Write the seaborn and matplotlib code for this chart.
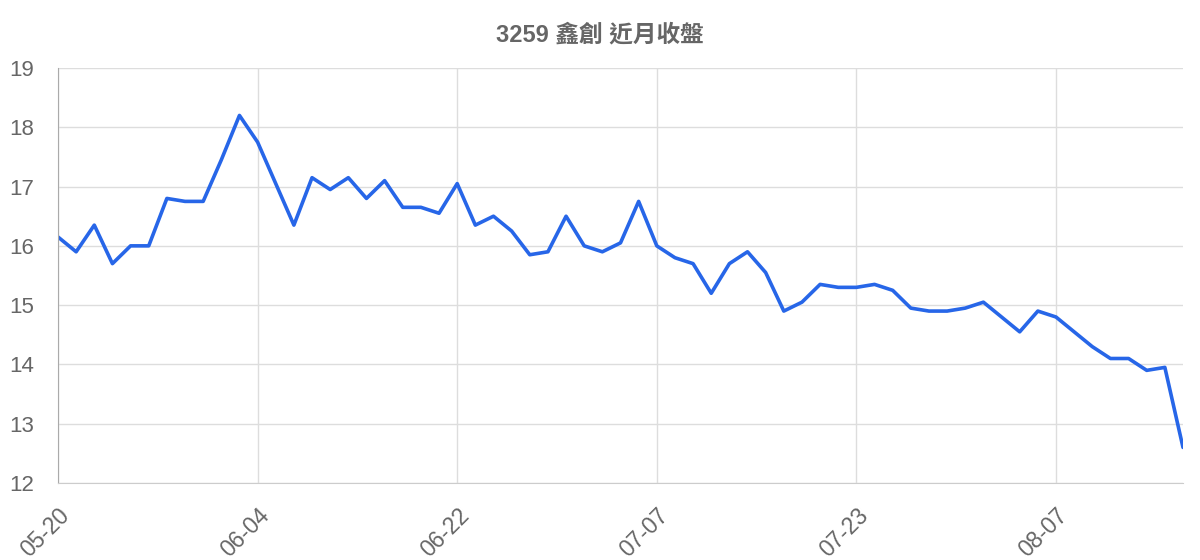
import matplotlib
matplotlib.use('Agg')
import matplotlib.pyplot as plt
import seaborn as sns
import pandas as pd

# closing prices, one per trading day
close = [16.15, 15.90, 16.35, 15.70, 16.00, 16.00, 16.80, 16.75, 16.75, 17.45,
         18.20, 17.75, 17.05, 16.35, 17.15, 16.95, 17.15, 16.80, 17.10, 16.65,
         16.65, 16.55, 17.05, 16.35, 16.50, 16.25, 15.85, 15.90, 16.50, 16.00,
         15.90, 16.05, 16.75, 16.00, 15.80, 15.70, 15.20, 15.70, 15.90, 15.55,
         14.90, 15.05, 15.35, 15.30, 15.30, 15.35, 15.25, 14.95, 14.90, 14.90,
         14.95, 15.05, 14.80, 14.55, 14.90, 14.80, 14.55, 14.30, 14.10, 14.10,
         13.90, 13.95, 12.60]
tick_labels = ['05-20', '06-04', '06-22', '07-07', '07-23', '08-07']
tick_step = 11
title = '3259 鑫創 近月收盤'

df = pd.DataFrame({'day': range(len(close)), 'close': close})

sns.set_style('white')
plt.rcParams['font.family'] = ['Liberation Sans', 'Noto Sans CJK TC', 'DejaVu Sans']

fig = plt.figure(figsize=(12, 5.6), dpi=100)
ax = fig.add_axes([58 / 1200, 1 - 483 / 560, (1183 - 58) / 1200, (483 - 68) / 560])

sns.lineplot(data=df, x='day', y='close', ax=ax, color='#2766e8', linewidth=2.6)

ax.set_xlim(0, len(close) - 1)
ax.set_ylim(12, 19)
ax.set_yticks(range(12, 20))
ax.set_xticks([i * tick_step for i in range(len(tick_labels))])
ax.set_xticklabels(tick_labels, rotation=45, ha='right', rotation_mode='anchor')
ax.set_xlabel('')
ax.set_ylabel('')

ax.grid(True, color='#dddddd', linewidth=1)
ax.tick_params(axis='y', length=14, color='#dddddd', width=1,
               labelsize=16, labelcolor='#666666', pad=3)
ax.tick_params(axis='x', length=14, color='#dddddd', width=1,
               labelsize=16.5, labelcolor='#666666', pad=1)
for side in ['top', 'right']:
    ax.spines[side].set_visible(False)
ax.spines['left'].set_color('#aaaaaa')
ax.spines['bottom'].set_color('#cccccc')

fig.text(0.5, 1 - 35 / 560, title, fontsize=17, fontweight='bold',
         color='#666666', ha='center', va='center')

fig.savefig('out.png', dpi=100)
